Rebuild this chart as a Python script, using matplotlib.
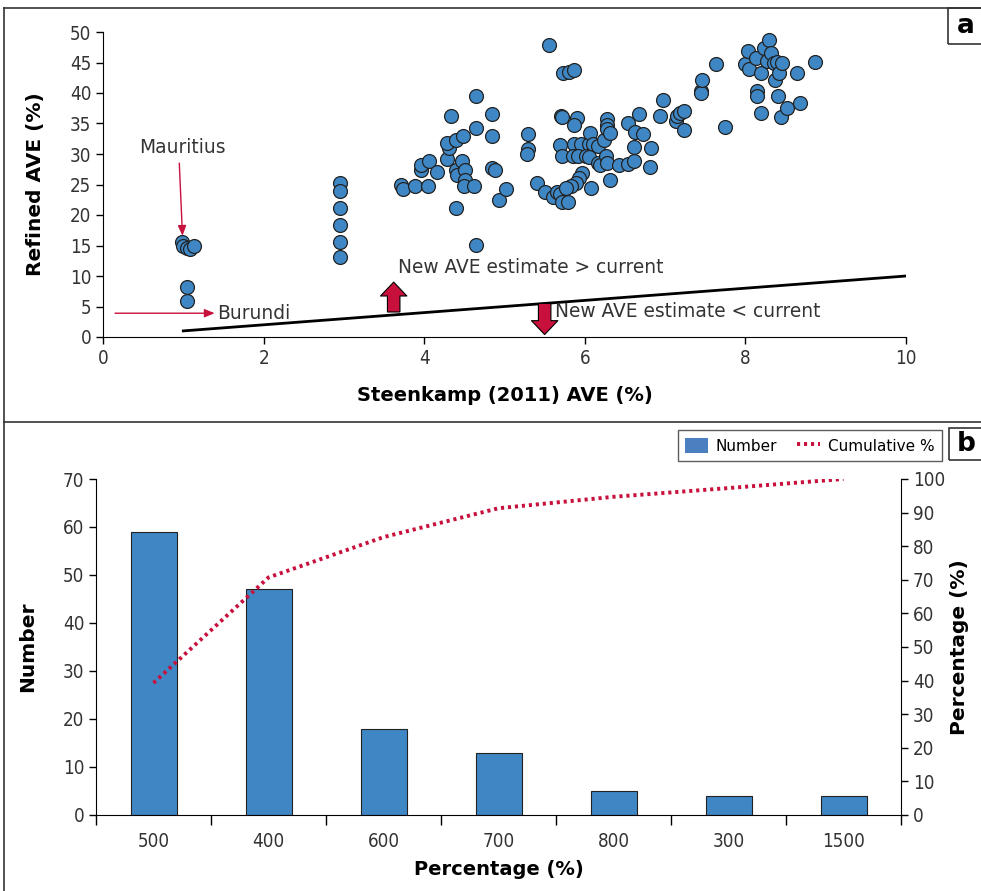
import numpy as np
import matplotlib
matplotlib.use('Agg')
import matplotlib.pyplot as plt
from matplotlib.lines import Line2D
from matplotlib.patches import Rectangle, Patch

# panel a: Steenkamp (2011) AVE vs refined AVE
steenkamp = [0.98, 1.0, 1.05, 1.08, 1.13, 1.04, 1.04,
             2.95, 2.95, 2.95, 2.95, 2.95, 2.95,
             3.71, 3.73, 3.88, 3.96, 3.96, 4.05, 4.06, 4.16, 4.28, 4.31, 4.29, 4.33,
             4.39, 4.39, 4.41, 4.39, 4.47, 4.48, 4.51, 4.51, 4.50, 4.62, 4.64, 4.65,
             4.64, 4.84, 4.84, 4.84, 4.88, 4.93, 5.02, 5.29, 5.29, 5.28, 5.41, 5.51,
             5.55, 5.60, 5.65, 5.69, 5.71, 5.79, 5.73, 5.80, 5.86, 5.70, 5.71, 5.90,
             5.87, 5.69, 5.72, 5.86, 5.85, 5.95, 5.92, 6.05, 6.01, 6.06, 6.10, 6.16,
             6.05, 6.16, 5.97, 5.93, 5.89, 5.83, 5.77, 6.08, 6.19, 6.24, 6.28, 6.28,
             6.28, 6.32, 6.26, 6.28, 6.32, 6.42, 6.54, 6.54, 6.61, 6.61, 6.63, 6.67,
             6.72, 6.83, 6.81, 6.94, 6.97, 7.14, 7.15, 7.19, 7.24, 7.24, 7.45, 7.45,
             7.46, 7.63, 7.74, 8.00, 8.03, 8.05, 8.13, 8.15, 8.15, 8.19, 8.20, 8.23,
             8.27, 8.30, 8.32, 8.35, 8.37, 8.39, 8.40, 8.42, 8.44, 8.45, 8.52, 8.64,
             8.68, 8.87]
refined = [15.6, 15.0, 14.6, 14.5, 14.9, 8.2, 5.9,
           25.3, 24.0, 21.2, 18.4, 15.6, 13.1,
           24.9, 24.3, 24.8, 27.3, 28.2, 24.8, 28.9, 27.1, 29.1, 31.0, 31.8, 36.3,
           32.3, 27.3, 26.6, 21.1, 28.9, 33.0, 27.3, 25.8, 24.8, 24.8, 34.3, 39.5,
           15.1, 36.6, 32.9, 27.7, 27.4, 22.4, 24.2, 33.3, 30.8, 30.0, 25.3, 23.8,
           47.9, 23.0, 23.7, 23.4, 22.2, 22.1, 43.2, 43.4, 43.7, 36.3, 36.1, 35.9,
           34.8, 31.4, 29.6, 31.7, 29.6, 31.7, 29.7, 31.7, 29.7, 33.4, 31.7, 31.3,
           29.5, 28.5, 26.9, 26.0, 25.2, 24.8, 24.4, 24.5, 28.2, 32.3, 35.7, 34.8,
           34.1, 33.4, 29.6, 28.5, 25.7, 28.2, 28.4, 35.0, 31.1, 28.9, 33.6, 36.5,
           33.2, 31.0, 27.8, 36.2, 38.8, 35.4, 36.3, 36.7, 37.1, 33.9, 40.3, 40.0,
           42.1, 44.7, 34.4, 44.7, 46.9, 43.9, 45.8, 40.3, 39.5, 43.3, 36.7, 47.3,
           45.2, 48.7, 46.6, 44.9, 42.1, 45.1, 39.5, 43.2, 36.1, 44.9, 37.6, 43.3,
           38.3, 45.1]
line_x = [1, 10]
line_y = [1, 10]

# panel b: distribution of refined AVE
categories = ['500', '400', '600', '700', '800', '300', '1500']
counts = [59, 47, 18, 13, 5, 4, 4]
cumulative = [39.3, 70.7, 82.7, 91.3, 94.7, 97.3, 100]

blue = '#3f87c4'
red = '#c8103c'
dots = (0, (0.8, 1.0))

fig = plt.figure(figsize=(9.81, 8.91), dpi=100)


def tick_font(labels):
    for t in labels:
        t.set_fontstretch('condensed')
        t.set_color('#333333')


# ---- panel a ----
ax = fig.add_axes([103/981, 1-337/891, 803/981, 305/891])
ax.scatter(steenkamp, refined, s=100, c=blue, edgecolors='#222222', linewidths=0.9, zorder=3)
ax.plot(line_x, line_y, color='black', lw=2, zorder=2)
ax.set_xlim(0, 10)
ax.set_ylim(0, 50)
ax.set_xticks(range(0, 11, 2))
ax.set_yticks(range(0, 51, 5))
for s in ['top', 'right']:
    ax.spines[s].set_visible(False)
ax.tick_params(direction='out', length=5, width=1, labelsize=13.5)
tick_font(ax.get_xticklabels() + ax.get_yticklabels())
ax.set_ylabel('Refined AVE (%)', fontsize=14.5, fontweight='bold')
ax.yaxis.set_label_coords(-0.072, 0.5)
ax.set_xlabel('Steenkamp (2011) AVE (%)', fontsize=14, fontweight='bold')
ax.xaxis.set_label_coords(0.5, -0.16)

ax.text(0.45, 31.0, 'Mauritius', fontsize=13.4, color='#333333', va='center')
thin = dict(arrowstyle='-|>,head_length=0.6,head_width=0.25', color=red, lw=1,
            shrinkA=0, shrinkB=0)
ax.annotate('', xy=(0.99, 16.6), xytext=(0.95, 28.5), arrowprops=thin)
ax.annotate('', xy=(1.39, 3.9), xytext=(0.15, 3.9), arrowprops=thin)
ax.text(1.42, 3.9, 'Burundi', fontsize=13.4, color='#333333', va='center')

fat = dict(arrowstyle='simple,head_length=10,head_width=19,tail_width=9', mutation_scale=1,
           fc=red, ec='black', lw=0.8, shrinkA=0, shrinkB=0)
ax.annotate('', xy=(3.62, 9.0), xytext=(3.62, 4.1), arrowprops=fat, zorder=4)
ax.annotate('', xy=(5.5, 0.4), xytext=(5.5, 5.5), arrowprops=fat, zorder=4)
ax.text(3.67, 11.4, 'New AVE estimate > current', fontsize=13.4, color='#333333', va='center')
ax.text(5.63, 4.1, 'New AVE estimate < current', fontsize=13.4, color='#333333', va='center')

# ---- panel b ----
bx = fig.add_axes([96/981, 1-815/891, 805/981, 336/891])
pos = np.arange(len(categories))
bx.bar(pos, counts, width=0.4, color=blue, edgecolor='#222222', linewidth=0.8, zorder=2)
bx.set_xlim(-0.5, len(categories) - 0.5)
bx.set_ylim(0, 70)
bx.set_yticks(range(0, 71, 10))
bx.set_xticks(np.arange(-0.5, len(categories), 1.0))
bx.set_xticklabels([])
bx.set_xticks(pos, minor=True)
bx.set_xticklabels(categories, minor=True)
bx.tick_params(axis='x', which='major', direction='out', length=7, width=1)
bx.tick_params(axis='x', which='minor', length=0, pad=12, labelsize=13.5)
bx.tick_params(axis='y', direction='out', length=5, width=1, labelsize=13.5)
bx.spines['top'].set_visible(False)
bx.spines['right'].set_visible(False)
tick_font(bx.get_xticklabels(minor=True) + bx.get_yticklabels())
bx.set_ylabel('Number', fontsize=14.5, fontweight='bold')
bx.yaxis.set_label_coords(-0.073, 0.5)
bx.set_xlabel('Percentage (%)', fontsize=14, fontweight='bold')
bx.xaxis.set_label_coords(0.5, -0.135)

rx = bx.twinx()
rx.plot(pos, cumulative, color=red, lw=2.8, linestyle=dots, zorder=3)
rx.set_ylim(0, 100)
rx.set_yticks(range(0, 101, 10))
rx.tick_params(direction='out', length=5, width=1, labelsize=13.5)
tick_font(rx.get_yticklabels())
rx.spines['top'].set_visible(False)
rx.spines['left'].set_visible(False)
rx.spines['bottom'].set_visible(False)
rx.set_ylabel('Percentage (%)', fontsize=14.5, fontweight='bold')
rx.yaxis.set_label_coords(1.061, 0.5)

handles = [Patch(facecolor='#4a80c0', edgecolor='none'),
           Line2D([0], [0], color=red, lw=2.8, linestyle=dots)]
leg = fig.legend(handles, ['Number', 'Cumulative %'], loc='upper right',
                 bbox_to_anchor=(942/981, 1-430/891), ncol=2, fontsize=11,
                 frameon=True, fancybox=False, edgecolor='#333333', handlelength=1.5,
                 handleheight=1.2, columnspacing=1.3, handletextpad=0.5,
                 borderpad=0.5, borderaxespad=0)
leg.get_frame().set_linewidth(1)


# frames round the two panels and the letter boxes
def fx(px):
    return px / 981


def fy(py):
    return 1 - py / 891


for x0, y0, x1, y1 in [(4, 8, 981, 8), (4, 8, 4, 891), (4, 422, 981, 422)]:
    fig.add_artist(Line2D([fx(x0), fx(x1)], [fy(y0), fy(y1)], color='#333333', lw=1.2))
for x0, y0, y1, letter in [(948, 8, 44, 'a'), (949, 428, 460, 'b')]:
    fig.add_artist(Rectangle((fx(x0), fy(y1)), fx(981) - fx(x0) + 0.01, fy(y0) - fy(y1),
                             transform=fig.transFigure, fill=False, ec='#333333', lw=1.2))
    fig.text(fx(966), fy((y0 + y1) / 2), letter, fontsize=19, fontweight='bold',
             ha='center', va='center')

fig.savefig('out.png', dpi=100)
